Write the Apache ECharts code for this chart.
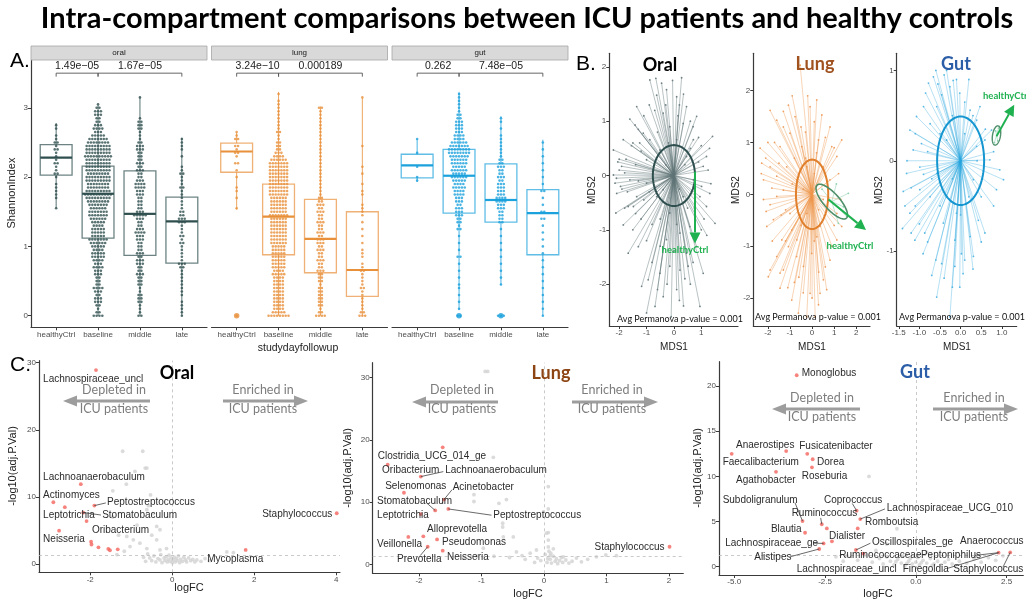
<!DOCTYPE html>
<html><head><meta charset="utf-8">
<script src="https://cdn.jsdelivr.net/npm/echarts@6/dist/echarts.min.js"></script>
<style>html,body{margin:0;padding:0;background:#fff}#chart{width:1026px;height:604px}</style>
</head><body><div id="chart"></div><script>
// ---------- A. Shannon index by study-day group ----------
const CATS = ['healthyCtrl', 'baseline', 'middle', 'late'];
const FACETS = ['oral', 'lung', 'gut'];
const pvalOral = ['1.49e\u221205', '1.67e\u221205'];
const pvalLung = ['3.24e\u221210', '0.000189'];
const pvalGut = ['0.262', '7.48e\u221205'];
// box stats: [lower whisker, Q1, median, Q3, upper whisker]
const boxOral = [[1.55, 2.03, 2.28, 2.47, 2.78], [0, 1.12, 1.76, 2.16, 3.04], [0, 0.87, 1.47, 2.09, 3.15], [0, 0.76, 1.36, 1.71, 2.57]];
const boxLung = [[1.53, 2.07, 2.37, 2.49, 2.64], [0, 0.88, 1.43, 1.90, 3.23], [0, 0.62, 1.11, 1.68, 3.02], [0, 0.28, 0.66, 1.50, 3.14]];
const boxGut = [[1.93, 1.99, 2.17, 2.33, 2.54], [0.08, 1.48, 2.02, 2.40, 3.23], [0.44, 1.35, 1.67, 2.19, 2.88], [0, 0.88, 1.48, 1.82, 2.54]];
const outLung = [[1, 0]];
const outGut = [[2, 0], [3, 0]];
// sample Shannon values, as [value, number of samples]
const dotsOral = [
  [[1.55,1],[1.7,1],[1.75,1],[1.8,1],[1.85,1],[1.9,1],[2.0,1],[2.05,2],[2.1,1],[2.15,1],[2.2,2],[2.25,1],[2.3,1],[2.35,1],[2.4,2],[2.45,1],[2.5,2],[2.55,1],[2.6,1],[2.7,1],[2.75,1]],
  [[0,4],[0.05,2],[0.1,1],[0.15,2],[0.2,3],[0.25,3],[0.3,2],[0.35,3],[0.4,4],[0.45,2],[0.5,2],[0.55,2],[0.6,3],[0.65,3],[0.7,4],[0.75,3],[0.8,4],[0.85,5],[0.9,5],[0.95,4],[1.0,5],[1.05,6],[1.1,7],[1.15,5],[1.2,5],[1.25,5],[1.3,4],[1.35,5],[1.4,6],[1.45,7],[1.5,7],[1.55,6],[1.6,7],[1.65,8],[1.7,9],[1.75,10],[1.8,9],[1.85,8],[1.9,8],[1.95,9],[2.0,9],[2.05,8],[2.1,9],[2.15,9],[2.2,9],[2.25,9],[2.3,10],[2.35,9],[2.4,9],[2.45,9],[2.5,8],[2.55,7],[2.6,5],[2.65,3],[2.7,4],[2.75,3],[2.8,2],[2.85,2],[2.9,3],[2.95,3],[3.0,2],[3.05,1]],
  [[0,2],[0.05,1],[0.1,1],[0.15,1],[0.2,2],[0.25,2],[0.3,2],[0.35,1],[0.4,1],[0.45,2],[0.5,2],[0.55,2],[0.6,3],[0.65,2],[0.7,2],[0.75,3],[0.8,3],[0.85,2],[0.9,3],[0.95,2],[1.0,2],[1.05,2],[1.1,3],[1.15,3],[1.2,4],[1.25,3],[1.3,2],[1.35,2],[1.4,3],[1.45,5],[1.5,3],[1.55,2],[1.6,2],[1.65,2],[1.7,2],[1.75,3],[1.8,3],[1.85,4],[1.9,4],[1.95,3],[2.0,2],[2.05,2],[2.1,3],[2.15,2],[2.2,3],[2.25,2],[2.3,2],[2.35,2],[2.4,3],[2.45,3],[2.5,2],[2.55,1],[2.6,1],[2.65,1],[2.7,2],[2.75,2],[2.8,2],[2.85,1],[3.15,1]],
  [[0,1],[0.05,1],[0.1,1],[0.15,1],[0.2,1],[0.3,1],[0.35,1],[0.4,1],[0.45,1],[0.5,1],[0.55,1],[0.6,1],[0.65,1],[0.7,2],[0.75,3],[0.8,1],[0.85,1],[0.9,1],[0.95,1],[1.0,1],[1.05,2],[1.1,1],[1.15,2],[1.2,1],[1.25,1],[1.3,1],[1.35,3],[1.4,3],[1.45,2],[1.5,2],[1.55,1],[1.6,1],[1.65,1],[1.7,1],[1.75,1],[1.8,1],[1.85,2],[1.9,1],[1.95,1],[2.0,1],[2.05,2],[2.1,1],[2.15,1],[2.3,1],[2.4,1],[2.45,1],[2.5,1],[2.55,1]]
];
const dotsLung = [
  [[0,1],[1.55,1],[1.7,1],[1.8,1],[1.85,1],[2.0,1],[2.1,1],[2.2,2],[2.3,1],[2.35,2],[2.4,1],[2.45,2],[2.55,2],[2.6,1],[2.65,1]],
  [[0,8],[0.05,5],[0.1,4],[0.15,4],[0.2,4],[0.25,4],[0.3,4],[0.35,4],[0.4,4],[0.45,4],[0.5,4],[0.55,4],[0.6,5],[0.65,4],[0.7,5],[0.75,5],[0.8,5],[0.85,5],[0.9,5],[0.95,5],[1.0,5],[1.05,6],[1.1,6],[1.15,6],[1.2,6],[1.25,6],[1.3,6],[1.35,6],[1.4,6],[1.45,7],[1.5,6],[1.55,6],[1.6,6],[1.65,6],[1.7,6],[1.75,7],[1.8,7],[1.85,7],[1.9,7],[1.95,7],[2.0,7],[2.05,7],[2.1,7],[2.15,7],[2.2,7],[2.25,6],[2.3,4],[2.35,3],[2.4,2],[2.45,2],[2.5,2],[2.55,1],[2.6,1],[2.65,2],[2.7,1],[2.75,1],[2.8,1],[2.85,1],[2.9,1],[2.95,1],[3.0,1],[3.05,1],[3.1,1],[3.2,1]],
  [[0,4],[0.05,2],[0.1,1],[0.15,2],[0.2,2],[0.25,2],[0.3,2],[0.35,2],[0.4,2],[0.45,1],[0.5,2],[0.55,2],[0.6,2],[0.65,3],[0.7,2],[0.75,2],[0.8,3],[0.85,2],[0.9,2],[0.95,3],[1.0,2],[1.05,3],[1.1,3],[1.15,2],[1.2,3],[1.25,2],[1.3,2],[1.35,3],[1.4,2],[1.45,2],[1.5,3],[1.55,2],[1.6,3],[1.65,2],[1.7,2],[1.75,1],[1.8,1],[1.85,1],[1.9,1],[1.95,1],[2.0,1],[2.05,1],[2.1,1],[2.15,1],[2.2,1],[2.25,1],[2.3,1],[2.35,1],[2.4,1],[2.45,1],[2.5,1],[2.55,1],[2.6,1],[2.65,1],[2.7,1],[2.75,1],[2.8,1],[2.85,1],[2.9,1],[2.95,1],[3.0,2]],
  [[0,3],[0.05,2],[0.1,1],[0.15,1],[0.2,1],[0.25,1],[0.3,1],[0.35,1],[0.4,2],[0.45,1],[0.5,1],[0.55,1],[0.6,1],[0.65,2],[0.7,1],[0.75,1],[0.85,1],[0.9,1],[0.95,1],[1.05,1],[1.15,1],[1.25,1],[1.35,1],[1.45,1],[1.5,1],[1.55,1],[1.6,1],[1.75,1],[1.8,1],[1.9,1],[2.05,1],[2.15,1],[2.45,1],[3.15,1]]
];
const dotsGut = [
  [[1.95,1],[2.0,1],[2.15,1],[2.35,1],[2.55,1]],
  [[0,2],[0.1,1],[0.2,1],[0.3,1],[0.4,1],[0.45,1],[0.55,1],[0.65,1],[0.75,1],[0.85,2],[0.95,1],[1.05,1],[1.15,1],[1.25,2],[1.3,1],[1.35,2],[1.4,2],[1.45,3],[1.5,3],[1.55,3],[1.6,2],[1.65,3],[1.7,3],[1.75,4],[1.8,4],[1.85,5],[1.9,4],[1.95,5],[2.0,6],[2.05,5],[2.1,6],[2.15,5],[2.2,6],[2.25,6],[2.3,7],[2.35,8],[2.4,8],[2.45,7],[2.5,6],[2.55,4],[2.6,4],[2.65,3],[2.7,3],[2.75,3],[2.8,3],[2.85,2],[2.9,2],[2.95,1],[3.0,1],[3.05,1],[3.1,1],[3.15,1],[3.2,1]],
  [[0,3],[0.45,1],[0.55,1],[0.65,1],[0.75,1],[0.85,1],[0.95,1],[1.05,1],[1.15,1],[1.25,1],[1.35,2],[1.4,2],[1.45,2],[1.5,2],[1.55,3],[1.6,3],[1.65,4],[1.7,4],[1.75,3],[1.8,3],[1.85,3],[1.9,3],[1.95,2],[2.0,3],[2.05,2],[2.1,2],[2.15,3],[2.2,2],[2.25,2],[2.3,1],[2.35,1],[2.4,1],[2.45,1],[2.5,1],[2.55,1],[2.6,1],[2.7,1],[2.8,1],[2.85,1]],
  [[0,1],[0.1,1],[0.2,1],[0.3,1],[0.4,1],[0.5,1],[0.6,1],[0.7,1],[0.8,1],[0.9,1],[1.0,1],[1.1,1],[1.2,1],[1.3,1],[1.4,2],[1.5,2],[1.6,1],[1.7,1],[1.8,2],[1.9,1],[2.0,1],[2.1,1],[2.2,1],[2.3,1],[2.4,1],[2.5,1]]
];

// ---------- B. MDS ordination (sample coordinates, centroid at 0,0) ----------
const mdsOral = [[-0.88,1.76],[-0.66,1.79],[0.28,1.80],[-0.27,1.58],[-1.61,1.04],[-1.36,1.27],[-0.63,1.48],[0.10,1.45],[0.46,1.27],[0.83,1.09],[1.41,0.72],[-0.88,0.66],[-1.85,0.66],[-2.21,0.47],[-1.42,0.93],[-1.91,0.17],[-2.21,0.01],[-2.15,-0.14],[-2.09,-0.33],[-2.12,-0.69],[-1.85,-0.91],[-1.48,-0.57],[-1.36,-0.39],[-1.67,-1.43],[-1.30,-1.31],[-1.18,-2.04],[-0.94,-1.92],[-1.00,-2.53],[-0.69,-2.41],[-0.51,-1.80],[-0.39,-2.23],[-0.15,-1.67],[0.10,-2.10],[0.22,-1.74],[0.46,-1.43],[0.52,-1.67],[0.95,-2.41],[1.07,-1.80],[0.83,-1.31],[1.50,-0.88],[1.19,-0.57],[1.31,-0.33],[1.01,-0.20],[1.07,0.17],[1.19,0.35],[0.71,0.66],[0.34,0.96],[-0.15,0.90],[-0.39,1.15],[-1.12,0.78],[-1.67,-0.57],[-0.51,0.47],[0.46,0.35],[-0.39,-0.26],[0.34,-0.39],[-0.75,0.10],[0.71,-0.08],[-0.15,-0.69],[0.10,0.66],[-1.0,0.29],[-0.63,-0.39],[0.58,-0.94],[-0.27,-1.18],[-1.61,-0.08],[0.22,-1.06],[-1.0,-0.14],[0.95,-0.39],[-1.2,0.45],[-1.75,0.3],[-1.9,-0.25],[-0.8,-0.9],[-0.5,-1.3],[0.0,-1.4],[0.35,-2.4],[-0.1,-2.6],[0.6,-2.0],[1.2,-1.1],[1.0,0.55],[0.6,1.0],[-0.3,1.3],[-0.9,1.3],[0.15,1.1],[-1.4,0.2],[-1.2,-0.8],[0.4,0.2],[-0.3,0.2],[0.2,-0.25],[-1.55,0.55],[-2.0,0.3],[-1.3,-0.1],[0.9,0.25],[0.75,-0.6],
  [-2.0,0.1],[-2.1,-0.05],[-1.95,-0.2],[-2.05,0.25],[-1.8,0.05],[-1.7,-0.3],[-1.5,0.6],[-1.3,0.85],[-1.1,1.1],[-0.7,1.2],[-0.45,1.7],[-0.05,1.75],[0.2,1.3],[0.35,1.5],[0.7,0.9],[0.9,0.7],[1.3,0.5],[1.25,0.1],[1.35,-0.15],[1.1,-0.8],[1.0,-1.0],[0.7,-1.6],[0.4,-1.9],[0.2,-2.3],[-0.25,-2.0],[-0.6,-2.1],[-0.8,-1.6],[-1.0,-1.2],[-1.5,-1.0],[-1.8,-0.6],[-1.4,-0.7],[-1.1,-0.45],[-0.5,-0.8],[0.1,-0.9],[0.5,-0.6],[0.6,0.5],[-0.2,0.6],[-0.6,0.8],[-1.25,0.6],[-0.9,-0.3]];
const mdsLung = [[-0.54,2.49],[-1.90,1.62],[-1.60,1.43],[-1.07,1.72],[-0.77,1.50],[-0.09,1.69],[0.21,1.82],[0.44,1.53],[0.81,1.30],[-2.35,0.89],[-2.20,0.28],[-2.28,0.60],[-2.08,-0.33],[-1.75,-0.49],[-1.37,-0.88],[-1.98,-1.59],[-1.90,-1.46],[-1.45,-1.81],[-1.30,-1.46],[-0.92,-2.04],[-0.62,-2.29],[-0.24,-2.36],[0.14,-2.36],[0.29,-2.13],[0.51,-1.65],[0.81,-1.27],[0.66,-1.84],[1.12,-0.88],[1.34,-0.62],[1.12,-0.37],[1.34,1.05],[1.12,0.73],[0.89,0.92],[-1.0,1.18],[-1.45,0.92],[-1.90,0.53],[-1.60,-0.04],[-1.30,0.08],[-1.0,-0.37],[-0.69,-0.88],[-0.39,-1.39],[-0.02,-1.14],[0.21,-0.82],[-0.24,0.53],[0.29,1.05],[-0.47,0.92],[-1.15,0.53],[-0.69,0.28],[0.51,0.53],[0.81,0.28],[0.66,-0.24],[-0.24,-0.37],[0.36,-0.62],[-0.92,-0.69],[-2.05,-0.62],[-1.82,0.12],[-1.45,-1.52],[-1.07,-1.01],[-0.09,-1.91],[0.36,-1.91],[-0.3,1.2],[-1.3,1.3],[-2.0,1.0],[-0.6,-1.6],[0.1,0.4],[-0.4,0.1],[-1.2,-0.3],[0.3,-0.3],[-0.8,0.7],[-1.6,0.35],
  [-2.3,0.4],[-2.1,0.7],[-1.7,1.0],[-1.3,1.6],[-0.9,1.9],[-0.5,1.3],[-0.2,1.9],[0.1,1.4],[0.6,1.1],[1.0,0.9],[1.2,0.4],[1.3,-0.1],[1.0,-0.6],[0.9,-1.0],[0.6,-1.4],[0.3,-1.5],[0.0,-2.0],[-0.4,-1.9],[-0.8,-1.7],[-1.1,-1.8],[-1.6,-1.2],[-1.8,-0.9],[-2.2,-0.1],[-1.9,-0.2],[-1.5,0.6],[-0.9,0.2],[-0.5,-0.6],[0.1,-0.9],[0.5,-0.1],[-0.3,0.7],[-1.2,-0.9],[-0.7,-1.2],[-1.4,-0.4],[0.2,0.8]];
const mdsGut = [[-0.34,1.00],[-0.66,0.93],[-0.78,0.86],[-0.46,0.73],[-0.26,0.82],[-0.02,0.75],[0.23,0.56],[0.39,0.45],[-1.23,0.34],[-1.07,0.49],[-0.95,0.19],[-1.15,0.12],[-1.39,-0.34],[-1.31,-0.14],[-0.99,-0.32],[-1.41,-0.75],[-1.23,-0.58],[-1.11,-0.88],[-0.87,-0.80],[-0.70,-1.27],[-0.46,-1.14],[-0.26,-1.73],[-0.14,-1.17],[-0.14,-0.88],[0.02,-1.03],[0.06,-1.25],[0.23,-0.84],[0.43,-0.66],[0.59,-0.80],[0.31,-1.06],[0.87,-0.32],[1.04,-0.21],[0.71,0.01],[0.59,0.23],[0.75,0.34],[0.47,0.60],[-0.18,0.89],[-0.58,0.60],[-0.74,0.41],[-0.58,-0.14],[-0.34,-0.40],[-0.34,0.23],[0.39,0.16],[0.31,-0.21],[-0.10,-0.58],[-0.42,-0.69],[-0.99,-0.07],[-0.74,-0.40],[-0.91,-1.03],[-0.02,-1.40],[-0.58,-1.51],[-0.5,0.3],[0.1,0.3],[-0.2,-0.2],[0.5,-0.4],[-1.1,-0.5],[-0.6,1.0],[0.0,-0.6],[-0.8,0.1],[0.2,0.9],
  [-1.3,0.0],[-1.2,-0.3],[-1.35,-0.5],[-1.1,0.3],[-0.9,0.6],[-0.85,0.75],[-0.55,0.85],[-0.4,0.95],[-0.1,0.9],[0.1,0.65],[0.3,0.5],[0.6,0.35],[0.8,0.1],[0.95,-0.1],[0.8,-0.5],[0.5,-0.9],[0.3,-1.2],[0.1,-1.1],[-0.2,-1.4],[-0.4,-1.3],[-0.6,-1.1],[-0.8,-0.9],[-1.0,-0.7],[-1.2,-0.8],[-0.5,-0.5],[-0.7,-0.2],[0.2,-0.4],[0.4,0.0],[-0.2,0.5],[-0.9,-0.15]];
const mdsLungCtrl = [[1.64,0.02],[1.57,-0.43],[1.19,-0.56],[1.42,-0.24],[1.1,0.2],[0.45,0.1]];
const mdsGutCtrl = [[0.82,0.2],[0.92,0.36],[0.85,0.33],[0.9,0.22]];
// ellipses: [cx, cy, ux, uy, vx, vy] (centre and two semi-axis vectors)
const ellOral = [0, 0, 0.77, 0, 0, 0.56];
const ellLung = [0, 0, 0.73, 0, 0, 0.67];
const ellGut = [0, 0, 0.57, 0, 0, 0.49];
const ellLungCtrl = [0.89, -0.14, 0.66, -0.32, -0.27, -0.10];
const ellGutCtrl = [0.87, 0.28, 0.05, 0.105, 0.09, -0.02];
// shift of healthy-control centroid: [from, to]
const shiftOral = [[0.77, 0.07], [0.77, -1.25]];
const shiftLung = [[0.74, -0.10], [2.44, -0.69]];
const shiftGut = [[0.87, 0.27], [1.30, 0.62]];

// ---------- C. Differential abundance (logFC, -log10 adj p) ----------
const oralSig = [[-1.86,28.9],[-2.23,11.9],[-2.90,9.2],[-2.62,8.46],[-1.90,8.7],[-2.17,7.66],[-2.09,6.4],[-2.76,4.97],[-1.98,3.33],[-1.97,2.9],[-1.80,2.48],[-1.56,2.24],[-1.52,2.05],[-1.33,2.19],[4.01,7.56],[1.79,2.09]];
const oralGray = [[-1.21,16.8],[-0.72,16.8],[-0.91,13.8],[-0.66,14.3],[-0.62,14.3],[-1.12,11.9],[-1.45,10.9],[-0.53,10.3],[-0.58,8.7],[-0.62,8.1],[-1.45,7.0],[-0.46,7.5],[-0.38,5.6],[-0.30,5.1],[-0.86,5.8],[-1.31,4.3],[-1.11,4.1],[-0.95,3.6],[-0.79,3.1],[-1.35,1.4],[-1.17,1.9],[-1.03,2.6],[-0.62,2.3],[-0.30,2.1],[-0.14,2.3],[-0.38,3.6],[-0.50,4.3],[1.33,1.8],[1.49,1.7],[-0.55,0.9],[-0.5,0.5],[-0.45,1.2],[-0.4,0.3],[-0.35,0.8],[-0.3,0.6],[-0.28,1.4],[-0.25,0.2],[-0.2,0.9],[-0.18,0.5],[-0.15,1.1],[-0.12,0.3],[-0.1,0.7],[-0.08,1.3],[-0.05,0.4],[-0.03,0.9],[0,0.2],[0.02,0.6],[0.05,1.0],[0.07,0.3],[0.1,0.8],[0.12,0.5],[0.15,1.2],[0.18,0.2],[0.2,0.7],[0.25,0.4],[0.28,1.0],[0.32,0.6],[0.35,0.3],[0.4,0.9],[0.45,0.5],[0.5,0.7],[0.55,0.3],[0.6,0.6],[0.7,0.4],[0.8,0.8],[-0.65,0.4],[-0.7,1.0],[0.9,0.5],[-0.6,1.5]];
const oralLabels = [[0,'Lachnospiraceae_uncl'],[1,'Lachnoanaerobaculum'],[2,'Actinomyces'],[4,'Peptostreptococcus'],[6,'Leptotrichia'],[5,'Stomatobaculum'],[6,'Oribacterium'],[7,'Neisseria'],[14,'Staphylococcus'],[15,'Mycoplasma']];
const lungSig = [[-1.62,18.8],[-2.50,16.0],[-1.97,14.1],[-2.24,11.5],[-1.60,10.4],[-1.74,8.66],[-1.97,8.07],[-1.53,8.9],[-2.17,4.4],[-1.93,4.5],[-1.71,4.0],[-1.86,2.83],[-1.62,2.19],[2.01,2.83]];
const lungGray = [[-0.94,31.0],[-0.9,31.0],[-0.81,17.2],[0.07,12.5],[-1.12,11.2],[-1.12,10.1],[-0.6,10.4],[-0.72,9.8],[0.07,8.9],[-0.66,6.6],[-0.66,6.0],[0.07,5.1],[-0.65,4.4],[-0.49,4.4],[-0.97,2.6],[-1.07,1.3],[-1.29,1.0],[-0.44,2.0],[-0.22,1.8],[-0.12,2.3],[0.31,1.2],[0.52,1.0],[0.84,1.2],[1.16,1.4],[0.99,1.5],[0.07,3.9],[0.07,2.8],[0.04,5.0],[0.05,0.3],[0.1,0.8],[0.12,0.2],[0.15,1.3],[0.18,0.5],[0.2,0.9],[0.22,0.1],[0.25,0.6],[0.28,1.1],[0.3,0.3],[0.35,0.7],[0.4,0.2],[0.45,0.5],[0.02,1.6],[0.08,2.1],[0.11,1.8],[-0.05,0.6],[-0.1,1.0],[-0.15,0.3],[-0.3,0.8],[-0.35,1.4],[-0.55,1.1],[-0.8,1.3],[0.6,0.4],[0.7,0.8],[0.15,2.5],[0.06,0.9],[0.1,1.4]];
const lungLabels = [[0,'Clostridia_UCG_014_ge'],[1,'Oribacterium'],[2,'Lachnoanaerobaculum'],[3,'Selenomonas'],[4,'Acinetobacter'],[5,'Stomatobaculum'],[6,'Leptotrichia'],[7,'Peptostreptococcus'],[9,'Alloprevotella'],[8,'Veillonella'],[10,'Pseudomonas'],[11,'Prevotella'],[12,'Neisseria'],[13,'Staphylococcus']];
const gutSig = [[-3.28,21.2],[-3.57,12.8],[-5.07,12.5],[-3.85,10.5],[-2.99,12.5],[-2.84,11.9],[-2.86,11.0],[-3.12,5.05],[-1.63,6.2],[-1.53,5.27],[-2.59,4.7],[-1.60,4.24],[-3.05,3.76],[-2.45,4.24],[-2.31,2.81],[-2.54,2.58],[-2.66,1.96],[-1.65,1.85],[-1.45,1.45],[2.28,1.55],[2.60,1.58]];
const gutGray = [[-1.29,10.0],[-0.52,4.2],[-1.9,1.2],[-1.6,0.7],[-1.4,1.3],[-1.2,0.5],[-1.0,0.9],[-0.9,0.3],[-0.8,1.1],[-0.7,0.6],[-0.6,0.2],[-0.5,0.8],[-0.4,0.4],[-0.35,1.2],[-0.3,0.1],[-0.2,0.6],[-0.15,0.9],[-0.1,0.3],[0,0.5],[0.05,1.0],[0.1,0.2],[0.2,0.7],[0.3,0.4],[0.4,0.9],[0.5,0.3],[0.6,0.6],[0.7,0.2],[0.8,0.5],[0.9,0.8],[1.0,0.3],[1.2,0.6],[1.4,0.4],[1.6,0.9],[1.8,0.5],[2.0,1.0],[2.2,0.7],[2.4,1.2],[-0.8,2.5],[-1.1,1.8],[0.3,1.6],[-2.2,1.1],[-2.0,0.6],[-0.25,0.35],[0.15,0.45],[0.45,0.15],[-0.55,0.55]];
const gutLabels = [[0,'Monoglobus'],[1,'Anaerostipes'],[2,'Faecalibacterium'],[3,'Agathobacter'],[4,'Fusicatenibacter'],[5,'Dorea'],[6,'Roseburia'],[7,'Subdoligranulum'],[8,'Coprococcus'],[9,'Lachnospiraceae_UCG_010'],[10,'Ruminococcus'],[11,'Romboutsia'],[12,'Blautia'],[14,'Dialister'],[15,'Lachnospiraceae_ge'],[16,'Alistipes'],[17,'Oscillospirales_ge'],[18,'Ruminococcaceae'],[18,'Lachnospiraceae_uncl'],[19,'Peptoniphilus'],[19,'Finegoldia'],[20,'Anaerococcus'],[20,'Staphylococcus']];

// ---------- layout ----------
// label anchors in data units: [x, y, align, connectorX?, connectorY?]
const oralLabelPos = [[-3.15,27.6,'left'],[-3.15,13.0,'left'],[-3.15,10.3,'left'],[-1.59,9.25,'left',-1.62,9.1],[-3.15,7.2,'left'],[-1.71,7.2,'left',-1.74,7.3],[-1.96,5.07,'left'],[-3.15,3.69,'left'],[3.90,7.46,'right'],[0.85,0.75,'left']];
const lungLabelPos = [[-2.66,17.4,'left'],[-2.59,15.1,'left'],[-1.58,15.1,'left',-1.61,14.9],[-2.54,12.6,'left'],[-1.46,12.4,'left',-1.47,12.0],[-2.67,10.1,'left',-1.87,9.8],[-2.67,7.87,'left'],[-0.81,7.87,'left',-0.84,7.9],[-1.87,5.67,'left'],[-2.67,3.26,'left'],[-1.63,3.53,'left'],[-2.35,0.85,'left',-1.98,1.4],[-1.55,1.12,'left'],[1.93,2.73,'right']];
const gutLabelPos = [[-3.14,21.4,'left'],[-4.95,13.5,'left'],[-5.32,11.6,'left'],[-4.95,9.6,'left'],[-3.21,13.3,'left'],[-2.72,11.6,'left'],[-3.14,10.0,'left'],[-5.32,7.4,'left',-3.33,7.1],[-2.53,7.4,'left',-1.75,7.0],[-0.80,6.46,'left',-0.85,6.4],[-3.42,5.9,'left',-2.62,5.4],[-1.40,4.87,'left'],[-3.99,4.14,'left'],[-2.39,3.32,'left'],[-5.25,2.65,'left',-2.80,2.6],[-4.45,1.04,'left',-3.46,1.1],[-1.21,2.73,'left',-1.25,2.6],[-2.11,1.22,'left'],[-3.28,-0.29,'left'],[0.14,1.22,'left',1.63,1.25],[-0.36,-0.29,'left',0.86,-0.2],[1.22,2.84,'left'],[1.03,-0.29,'left',2.40,-0.05]];
// grids: [left, top, width, height]
const GRIDS = [[31,60,176,267.3],[211.5,60,176,267.3],[392,60,176,267.3],[609.3,53.3,128.7,272.7],[753.3,53.3,116.7,272.7],[896.7,53.3,120,272.7],[39,360.7,301,211.6],[372.7,362.7,310.6,210.6],[719,361.7,304.3,213.3]];
const XR = [[0.4,4.6],[0.4,4.6],[0.4,4.6],[-2.36,2.34],[-2.66,2.62],[-1.55,1.36],[-3.25,4.09],[-2.74,2.23],[-5.42,2.96]];
const YR = [[-0.167,3.69],[-0.167,3.69],[-0.167,3.69],[-2.77,2.25],[-2.54,2.72],[-1.83,1.19],[-1.24,30.3],[-1.44,32.4],[-0.92,22.7]];
const XT = [[1,2,3,4],[1,2,3,4],[1,2,3,4],[-2,-1,0,1],[-2,-1,0,1,2],[-1.5,-1,-0.5,0,0.5,1],[-2,0,2,4],[-2,-1,0,1,2],[-5,-2.5,0,2.5]];
const YT = [[0,1,2,3],[0,1,2,3],[0,1,2,3],[-2,-1,0,1,2],[-2,-1,0,1,2],[-1,0,1],[0,10,20,30],[0,10,20,30],[0,5,10,15,20]];

const C_ORAL = '#2f4f4f', C_LUNG = '#e8903a', C_GUT = '#1ba1dc';
const C_RED = '#f4645c', C_GRAY = '#d2d2d2', C_GREEN = '#1fb150';
const SANS = '"Liberation Sans", Arial, sans-serif';
const HUM = 'Lato, "Open Sans", sans-serif';

function axisCfg(dim, i) {
  const r = dim === 'x' ? XR[i] : YR[i];
  const t = dim === 'x' ? XT[i] : YT[i];
  let fmt = v => String(v);
  if (dim === 'x' && i < 3) fmt = v => CATS[Math.round(v) - 1];
  if (dim === 'x' && (i === 5 || i === 8)) fmt = v => v.toFixed(1);
  const hidden = dim === 'y' && (i === 1 || i === 2);
  return {
    type: 'value', gridIndex: i, min: r[0], max: r[1], show: !hidden,
    axisLine: { show: true, onZero: false, lineStyle: { color: '#3a3a3a', width: 1.2 } },
    axisTick: { show: true, customValues: t, length: 3, lineStyle: { color: '#3a3a3a' } },
    axisLabel: { customValues: t, formatter: fmt, fontSize: 8, color: '#4d4d4d', margin: 3, fontFamily: SANS },
    splitLine: { show: false }
  };
}

function swarm(groups, dx) {
  const out = [];
  groups.forEach((pairs, gi) => pairs.forEach(([v, n]) => {
    for (let i = 0; i < n; i++) out.push([gi + 1 + (i - (n - 1) / 2) * dx, v]);
  }));
  return out;
}

function boxSeries(gi, stats, color) {
  return {
    type: 'custom', xAxisIndex: gi, yAxisIndex: gi, silent: true, z: 2,
    data: stats.map((s, i) => [i + 1].concat(s)),
    renderItem: (params, api) => {
      const x = api.value(0), w = 0.38;
      const lo = api.value(1), q1 = api.value(2), md = api.value(3), q3 = api.value(4), hi = api.value(5);
      const tl = api.coord([x - w, q3]), br = api.coord([x + w, q1]);
      const t = api.coord([x, hi]), b = api.coord([x, lo]), a3 = api.coord([x, q3]), a1 = api.coord([x, q1]);
      const m1 = api.coord([x - w, md]), m2 = api.coord([x + w, md]);
      return { type: 'group', children: [
        { type: 'line', shape: { x1: t[0], y1: t[1], x2: a3[0], y2: a3[1] }, style: { stroke: color, lineWidth: 1, opacity: 0.8 } },
        { type: 'line', shape: { x1: a1[0], y1: a1[1], x2: b[0], y2: b[1] }, style: { stroke: color, lineWidth: 1, opacity: 0.8 } },
        { type: 'rect', shape: { x: tl[0], y: tl[1], width: br[0] - tl[0], height: br[1] - tl[1] }, style: { fill: 'none', stroke: color, lineWidth: 1.3, opacity: 0.7 } },
        { type: 'line', shape: { x1: m1[0], y1: m1[1], x2: m2[0], y2: m2[1] }, style: { stroke: color, lineWidth: 2.2 } }
      ] };
    }
  };
}

function bracketSeries(gi, labels) {
  const spans = [[1, 2], [2, 4]];
  return {
    type: 'custom', xAxisIndex: gi, yAxisIndex: gi, silent: true, z: 3,
    data: spans.map(s => [s[0], s[1]]),
    renderItem: (params, api) => {
      const x1 = api.value(0), x2 = api.value(1);
      const a = api.coord([x1, 3.5]), b = api.coord([x2, 3.5]);
      const a2 = api.coord([x1, 3.45]), b2 = api.coord([x2, 3.45]);
      const c = api.coord([(x1 + x2) / 2, 3.6]);
      const st = { stroke: '#555', lineWidth: 0.9 };
      return { type: 'group', children: [
        { type: 'line', shape: { x1: a[0], y1: a[1], x2: b[0], y2: b[1] }, style: st },
        { type: 'line', shape: { x1: a[0], y1: a[1], x2: a2[0], y2: a2[1] }, style: st },
        { type: 'line', shape: { x1: b[0], y1: b[1], x2: b2[0], y2: b2[1] }, style: st },
        { type: 'text', x: c[0], y: c[1], style: { text: labels[params.dataIndex], font: '10.5px ' + SANS, fill: '#222', align: 'center', verticalAlign: 'middle' } }
      ] };
    }
  };
}

function spokeSeries(gi, pts, center, lineColor, dotColor, z) {
  return {
    type: 'custom', xAxisIndex: gi, yAxisIndex: gi, silent: true, z: z || 2, data: pts,
    renderItem: (params, api) => {
      const c = api.coord(center), p = api.coord([api.value(0), api.value(1)]);
      return { type: 'group', children: [
        { type: 'line', shape: { x1: c[0], y1: c[1], x2: p[0], y2: p[1] }, style: { stroke: lineColor, lineWidth: 0.8 } },
        { type: 'circle', shape: { cx: p[0], cy: p[1], r: 0.9 }, style: { fill: dotColor } }
      ] };
    }
  };
}

function ellipseSeries(gi, e, color, lw) {
  return {
    type: 'custom', xAxisIndex: gi, yAxisIndex: gi, silent: true, z: 5, data: [[e[0], e[1]]],
    renderItem: (params, api) => {
      const pts = [];
      for (let k = 0; k <= 96; k++) {
        const t = k / 96 * 2 * Math.PI;
        pts.push(api.coord([e[0] + e[2] * Math.cos(t) + e[4] * Math.sin(t), e[1] + e[3] * Math.cos(t) + e[5] * Math.sin(t)]));
      }
      return { type: 'polyline', shape: { points: pts }, style: { stroke: color, lineWidth: lw, fill: 'none' } };
    }
  };
}

function arrowSeries(gi, seg, color) {
  return {
    type: 'custom', xAxisIndex: gi, yAxisIndex: gi, silent: true, z: 6, data: [seg[0].concat(seg[1])],
    renderItem: (params, api) => {
      const a = api.coord([api.value(0), api.value(1)]), b = api.coord([api.value(2), api.value(3)]);
      const ang = Math.atan2(b[1] - a[1], b[0] - a[0]), L = 11, W = 5.5;
      const bx = b[0] - L * Math.cos(ang), by = b[1] - L * Math.sin(ang);
      const px = -Math.sin(ang) * W, py = Math.cos(ang) * W;
      return { type: 'group', children: [
        { type: 'line', shape: { x1: a[0], y1: a[1], x2: bx, y2: by }, style: { stroke: color, lineWidth: 2 } },
        { type: 'polygon', shape: { points: [[b[0], b[1]], [bx + px, by + py], [bx - px, by - py]] }, style: { fill: color } }
      ] };
    }
  };
}

function volcanoSeries(gi, sig, gray, labels, pos) {
  const ref = { silent: true, symbol: 'none', label: { show: false },
    lineStyle: { type: [3, 3], color: '#bdbdbd', width: 0.8 }, data: [{ xAxis: 0 }, { yAxis: 1.3 }] };
  return [
    { type: 'scatter', xAxisIndex: gi, yAxisIndex: gi, silent: true, z: 2, data: gray, symbolSize: 3.8,
      itemStyle: { color: C_GRAY }, markLine: ref },
    { type: 'scatter', xAxisIndex: gi, yAxisIndex: gi, silent: true, z: 4, data: sig, symbolSize: 3.8,
      itemStyle: { color: C_RED } },
    { type: 'custom', xAxisIndex: gi, yAxisIndex: gi, silent: true, z: 5,
      data: pos.map(p => [p[0], p[1]]),
      renderItem: (params, api) => {
        const [pi, name] = labels[params.dataIndex];
        const L = pos[params.dataIndex];
        const a = api.coord([L[0], L[1]]);
        const kids = [{ type: 'text', x: a[0], y: a[1], style: { text: name, font: '10px ' + SANS, fill: '#2b2b2b', align: L[2], verticalAlign: 'middle' } }];
        if (L.length > 3) {
          const p = api.coord(sig[pi]), c = api.coord([L[3], L[4]]);
          kids.unshift({ type: 'line', shape: { x1: p[0], y1: p[1], x2: c[0], y2: c[1] }, style: { stroke: '#444', lineWidth: 0.8 } });
        }
        return { type: 'group', children: kids };
      } }
  ];
}

const series = [
  boxSeries(0, boxOral, C_ORAL), boxSeries(1, boxLung, C_LUNG), boxSeries(2, boxGut, C_GUT),
  { type: 'scatter', xAxisIndex: 0, yAxisIndex: 0, silent: true, z: 3, data: swarm(dotsOral, 0.068), symbolSize: 2.6, itemStyle: { color: C_ORAL } },
  { type: 'scatter', xAxisIndex: 1, yAxisIndex: 1, silent: true, z: 3, data: swarm(dotsLung, 0.068), symbolSize: 2.6, itemStyle: { color: C_LUNG } },
  { type: 'scatter', xAxisIndex: 2, yAxisIndex: 2, silent: true, z: 3, data: swarm(dotsGut, 0.068), symbolSize: 2.6, itemStyle: { color: C_GUT } },
  { type: 'scatter', xAxisIndex: 1, yAxisIndex: 1, silent: true, z: 3, data: outLung, symbolSize: 5.5, itemStyle: { color: C_LUNG } },
  { type: 'scatter', xAxisIndex: 2, yAxisIndex: 2, silent: true, z: 3, data: outGut, symbolSize: 5.5, itemStyle: { color: C_GUT } },
  bracketSeries(0, pvalOral), bracketSeries(1, pvalLung), bracketSeries(2, pvalGut),
  spokeSeries(3, mdsOral, [0, 0], 'rgba(95,114,118,0.55)', '#6f8184'),
  spokeSeries(4, mdsLung, [0, 0], 'rgba(238,150,75,0.5)', '#eea062'),
  spokeSeries(5, mdsGut, [0, 0], 'rgba(40,165,222,0.42)', '#58b8e4'),
  spokeSeries(4, mdsLungCtrl, [0.89, -0.14], 'rgba(120,200,160,0.6)', '#8fd3b0', 3),
  spokeSeries(5, mdsGutCtrl, [0.87, 0.28], 'rgba(120,200,160,0.6)', '#8fd3b0', 3),
  ellipseSeries(3, ellOral, C_ORAL, 2), ellipseSeries(4, ellLung, '#e07f2c', 2), ellipseSeries(5, ellGut, '#1596d0', 2),
  ellipseSeries(4, ellLungCtrl, '#4e8f6a', 1.6), ellipseSeries(5, ellGutCtrl, '#4e8f6a', 1.4),
  arrowSeries(3, shiftOral, C_GREEN), arrowSeries(4, shiftLung, C_GREEN), arrowSeries(5, shiftGut, C_GREEN)
].concat(volcanoSeries(6, oralSig, oralGray, oralLabels, oralLabelPos),
  volcanoSeries(7, lungSig, lungGray, lungLabels, lungLabelPos),
  volcanoSeries(8, gutSig, gutGray, gutLabels, gutLabelPos));

// ---------- text and decorations ----------
const T = (x, y, text, font, fill, align, rot) => ({ type: 'text', x, y, rotation: rot || 0, silent: true, z: 100,
  style: { text, font, fill, align: align || 'center', verticalAlign: 'middle' } });
function hArrow(x1, x2, y) {
  const dir = Math.sign(x2 - x1), head = 14;
  return [
    { type: 'line', silent: true, z: 99, shape: { x1, y1: y, x2: x2 - dir * head, y2: y }, style: { stroke: '#9d9d9d', lineWidth: 3 } },
    { type: 'polygon', silent: true, z: 99, shape: { points: [[x2, y], [x2 - dir * head, y - 5.5], [x2 - dir * head, y + 5.5]] }, style: { fill: '#9d9d9d' } }
  ];
}
function annot(cx, y1, text1, ax1, ax2, ay) {
  return [T(cx, y1, text1, '12.5px ' + HUM, '#7d7d7d'), T(cx, y1 + 19, 'ICU patients', '12.5px ' + HUM, '#7d7d7d')].concat(hArrow(ax1, ax2, ay));
}
const graphic = [
  T(527, 19, 'Intra-compartment comparisons between ICU patients and healthy controls', 'bold 29px ' + HUM, '#000'),
  T(10, 61, 'A.', '21px ' + SANS, '#000', 'left'),
  T(576, 64, 'B.', '21px ' + SANS, '#000', 'left'),
  T(10, 365, 'C.', '21px ' + SANS, '#000', 'left')
];
GRIDS.slice(0, 3).forEach((g, i) => {
  graphic.push({ type: 'rect', silent: true, z: 90, shape: { x: g[0], y: 46, width: g[2], height: 14 }, style: { fill: '#d9d9d9', stroke: '#a6a6a6', lineWidth: 0.8 } });
  graphic.push(T(g[0] + g[2] / 2, 53, FACETS[i], '8px ' + SANS, '#1a1a1a'));
});
graphic.push(
  T(12, 193, 'ShannonIndex', '11px ' + SANS, '#222', 'center', Math.PI / 2),
  T(298, 348, 'studydayfollowup', '10.5px ' + SANS, '#222'),
  T(660, 65, 'Oral', 'bold 18px ' + HUM, '#000'),
  T(815, 64, 'Lung', 'bold 18px ' + HUM, '#a0521f'),
  T(956, 64, 'Gut', 'bold 18px ' + HUM, '#2c5ea8'),
  T(592, 190, 'MDS2', '10px ' + SANS, '#222', 'center', Math.PI / 2),
  T(736, 190, 'MDS2', '10px ' + SANS, '#222', 'center', Math.PI / 2),
  T(879, 190, 'MDS2', '10px ' + SANS, '#222', 'center', Math.PI / 2),
  T(674, 347, 'MDS1', '10px ' + SANS, '#222'),
  T(812, 347, 'MDS1', '10px ' + SANS, '#222'),
  T(957, 347, 'MDS1', '10px ' + SANS, '#222'),
  T(680, 319, 'Avg Permanova p-value = 0.001', '9px ' + HUM, '#111'),
  T(818, 317, 'Avg Permanova p-value = 0.001', '9px ' + HUM, '#111'),
  T(962, 317, 'Avg Permanova p-value = 0.001', '9px ' + HUM, '#111'),
  T(685, 250, 'healthyCtrl', 'bold 9.5px ' + HUM, C_GREEN),
  T(850, 246, 'healthyCtrl', 'bold 9.5px ' + HUM, C_GREEN),
  T(983, 96, 'healthyCtrl', 'bold 9.5px ' + HUM, C_GREEN, 'left'),
  T(177, 373, 'Oral', 'bold 18px ' + HUM, '#000'),
  T(551, 373, 'Lung', 'bold 18px ' + HUM, '#8e4514'),
  T(915, 372, 'Gut', 'bold 18px ' + HUM, '#2c5ea8'),
  T(13, 466, '-log10(adj.P.Val)', '11px ' + SANS, '#222', 'center', Math.PI / 2),
  T(348, 468, '-log10(adj.P.Val)', '11px ' + SANS, '#222', 'center', Math.PI / 2),
  T(698, 468, '-log10(adj.P.Val)', '11px ' + SANS, '#222', 'center', Math.PI / 2),
  T(189, 588, 'logFC', '11px ' + SANS, '#222'),
  T(528, 594, 'logFC', '11px ' + SANS, '#222'),
  T(878, 594, 'logFC', '11px ' + SANS, '#222')
);
graphic.push.apply(graphic, annot(114, 390, 'Depleted in', 150, 63, 401));
graphic.push.apply(graphic, annot(263, 390, 'Enriched in', 223, 308, 401));
graphic.push.apply(graphic, annot(462, 390, 'Depleted in', 498, 412, 402));
graphic.push.apply(graphic, annot(612, 390, 'Enriched in', 572, 658, 402));
graphic.push.apply(graphic, annot(822, 398, 'Depleted in', 860, 772, 409));
graphic.push.apply(graphic, annot(974, 398, 'Enriched in', 933, 1018, 409));

const option = {
  animation: false,
  backgroundColor: '#fff',
  grid: GRIDS.map(g => ({ left: g[0], top: g[1], width: g[2], height: g[3], containLabel: false, outerBoundsMode: 'none' })),
  xAxis: GRIDS.map((g, i) => axisCfg('x', i)),
  yAxis: GRIDS.map((g, i) => axisCfg('y', i)),
  series,
  graphic
};
const chart = echarts.init(document.getElementById('chart'), null, { renderer: 'canvas' });
chart.setOption(option);
</script></body></html>
